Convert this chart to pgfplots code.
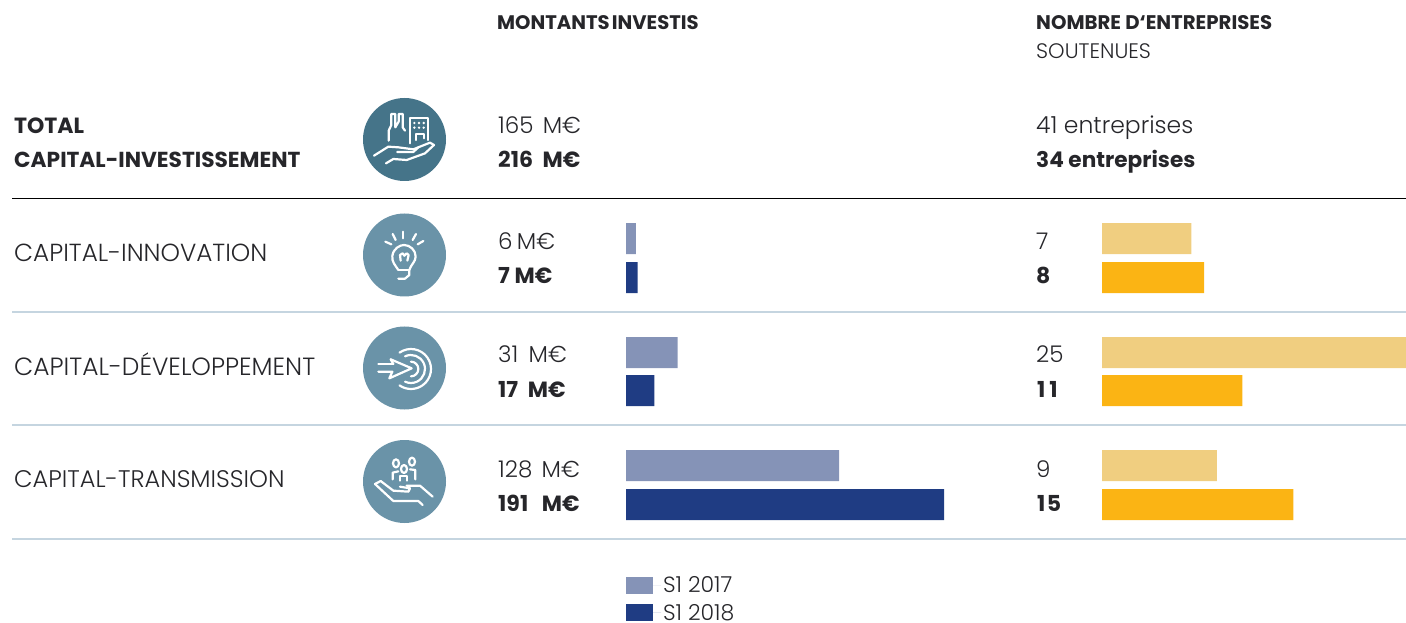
\documentclass[border=0pt]{standalone}
\usepackage{fontspec}
\usepackage{pgfplots}
\pgfplotsset{compat=1.18}
\setmainfont{Poppins}
\newfontfamily\lightf{Poppins Light}
\definecolor{txt}{HTML}{26262A}
\definecolor{c17}{HTML}{8593B7}
\definecolor{c18}{HTML}{1F3C83}
\definecolor{y17}{HTML}{F0CE80}
\definecolor{y18}{HTML}{FBB414}
\definecolor{cdark}{HTML}{457489}
\definecolor{clight}{HTML}{6A93A8}
\definecolor{rule}{HTML}{C5D5E0}
\newcommand{\T}[4][24]{\node[anchor=base west,inner sep=0pt,text=txt,font=\fontsize{#1}{#1}\selectfont\lightf] at (#2,#3) {#4};}
\newcommand{\B}[4][22]{\node[anchor=base west,inner sep=0pt,text=txt,font=\fontsize{#1}{#1}\selectfont\bfseries] at (#2,#3) {#4};}
\pgfplotstableread{
v y
6 238.5
31 352.5
128 465.5
}\leftA
\pgfplotstableread{
v y
7 277.5
17 390.5
191 504.5
}\leftB
\pgfplotstableread{
v y
7 238.5
25 352.5
9 465.5
}\rightA
\pgfplotstableread{
v y
8 277.5
11 390.5
15 504.5
}\rightB
\pgfplotsset{barax/.style={scale only axis,axis lines=none,height=622pt,ymin=0,ymax=622,y dir=reverse,xmin=0,
  xbar,bar width=31pt,bar shift=0pt,anchor=south west}}
\begin{document}
\begin{tikzpicture}
\useasboundingbox (0,0) rectangle (1406pt,622pt);
\begin{axis}[barax,at={(626pt,0pt)},width=318pt,xmax=191,clip=false,
  legend style={at={(0,0)},anchor=south west,xshift=0pt,yshift=-1.5pt,draw=none,fill=none,inner sep=0pt,outer sep=0pt,
    font=\fontsize{22}{22}\selectfont\lightf,text=txt,row sep=5.5pt},
  legend cell align=left,
  legend image code/.code={\fill[#1] (0pt,-8.3pt) rectangle (27pt,8.3pt);\path (0pt,0pt)--(35pt,0pt);}]
\addplot[fill=c17,draw=none] table[x=v,y=y] {\leftA};
\addplot[fill=c18,draw=none] table[x=v,y=y] {\leftB};
\legend{S1 2017,S1 2018}
\end{axis}
\begin{axis}[barax,at={(1102pt,0pt)},width=304pt,xmax=23.843]
\addplot[fill=y17,draw=none] table[x=v,y=y] {\rightA};
\addplot[fill=y18,draw=none] table[x=v,y=y] {\rightB};
\end{axis}
\begin{scope}[x=1pt,y=-1pt,yshift=622pt]
\draw[black,line width=1pt] (12,199)--(1406,199);
\foreach \yy in {312,425,539} \draw[rule,line width=1.2pt] (12,\yy)--(1406,\yy);
\B[19.6]{497}{30}{MONTANTS\hspace{-2pt} INVESTIS}
\B[19.7]{1036}{30}{NOMBRE D‘ENTREPRISES}
\T[21]{1036}{59}{SOUTENUES}
\B{14}{134}{TOTAL}
\B[21.7]{14}{168}{CAPITAL-INVESTISSEMENT}
\T[24.7]{14}{262}{CAPITAL-INNOVATION}
\T[24.9]{14}{375}{CAPITAL-DÉVELOPPEMENT}
\T{14}{487}{CAPITAL-TRANSMISSION}
\T[23]{498}{134}{165\hspace{3pt} M€}
\B{498}{168}{216\hspace{5pt} M€}
\T[23]{498}{250}{6\hspace{-2pt} M€}
\B{498}{284}{7\hspace{0pt} M€}
\T[23]{498}{363}{31\hspace{4pt} M€}
\B{498}{397}{17\hspace{5pt} M€}
\T[23]{498}{477}{128\hspace{3pt} M€}
\B{498}{511}{191\hspace{9pt} M€}
\T[23.5]{1036}{134}{41 entreprises}
\B[21.6]{1036}{168}{34 entreprises}
\T[23]{1036}{250}{7}
\B{1036}{284}{8}
\T[23]{1036}{363}{25}
\B{1037}{397}{1\hspace{4pt}1}
\T[23]{1036}{477}{9}
\B{1037}{511}{1\hspace{1.5pt}5}
\fill[cdark] (404.5,139.5) circle[radius=41.5];
\fill[clight] (404.5,255) circle[radius=41.5];
\fill[clight] (404.5,368) circle[radius=41.5];
\fill[clight] (404.5,481.5) circle[radius=41.5];
\begin{scope}[shift={(350,90)},scale=1/3,white,line width=2.2pt,line cap=round,line join=round]
\draw (116,152)--(116,122)--(124,105)--(124,72)--(136,72)--(136,112)--(146,95)--(146,72)--(158,72)--(158,112)--(165,122);
\draw (180,160)--(180,85)--(235,85)--(235,150);
\draw (197,150)--(197,133)--(222,133)--(222,145);
\foreach \xx in {193,207,221} \foreach \yy in {99,113} \fill (\xx,\yy) circle[radius=4];
\draw (72,197)--(115,170)--(145,172)--(190,178)--(240,158)--(252,165)--(225,190)--(170,210)--(130,207)--(108,220);
\draw (142,186)--(190,186)--(205,172);
\draw (160,425)--(160,445);\draw (128,432)--(137,450);\draw (106,455)--(124,463);\draw (188,450)--(198,432);\draw (203,463)--(220,453);
\draw (145,540) .. controls (135,525) and (125,515) .. (127,498) .. controls (130,475) and (150,465) .. (162,465) .. controls (180,465) and (197,480) .. (197,500) .. controls (197,515) and (182,525) .. (178,540) -- (178,555) -- (165,566) -- (145,566);
\draw (145,540)--(178,540);
\draw (152,512)--(150,495)--(158,490)--(163,497)--(170,490)--(176,495)--(172,512);
\end{scope}
\begin{scope}[shift={(350,320)},scale=1/3,white,line width=2.2pt,line cap=round,line join=round]
\draw (85,132)--(130,132);
\draw (122,118)--(130,132);
\draw (122,118)--(185,145)--(118,175)--(127,155)--(85,155);
\draw (183,147) ++(-125:60) arc[start angle=-125,end angle=125,radius=60];
\draw (183,147) ++(-115:42) arc[start angle=-115,end angle=115,radius=42];
\draw (183,147) ++(-90:22) arc[start angle=-90,end angle=90,radius=22];
\draw (138,430) ellipse[x radius=9,y radius=12];\draw (162,447) ellipse[x radius=9,y radius=12];\draw (186,425) ellipse[x radius=9,y radius=12];
\draw (128,478)--(128,458)--(145,454);
\draw (150,482)--(150,468)--(172,468)--(172,482);
\draw (196,478)--(196,450)--(180,448);
\draw (75,492)--(130,543)--(205,543)--(218,555);
\draw (75,492)--(92,483)--(130,512)--(175,515)--(180,505)--(150,500);
\draw (170,497)--(210,497)--(248,530);
\end{scope}
\end{scope}
\end{tikzpicture}
\end{document}
